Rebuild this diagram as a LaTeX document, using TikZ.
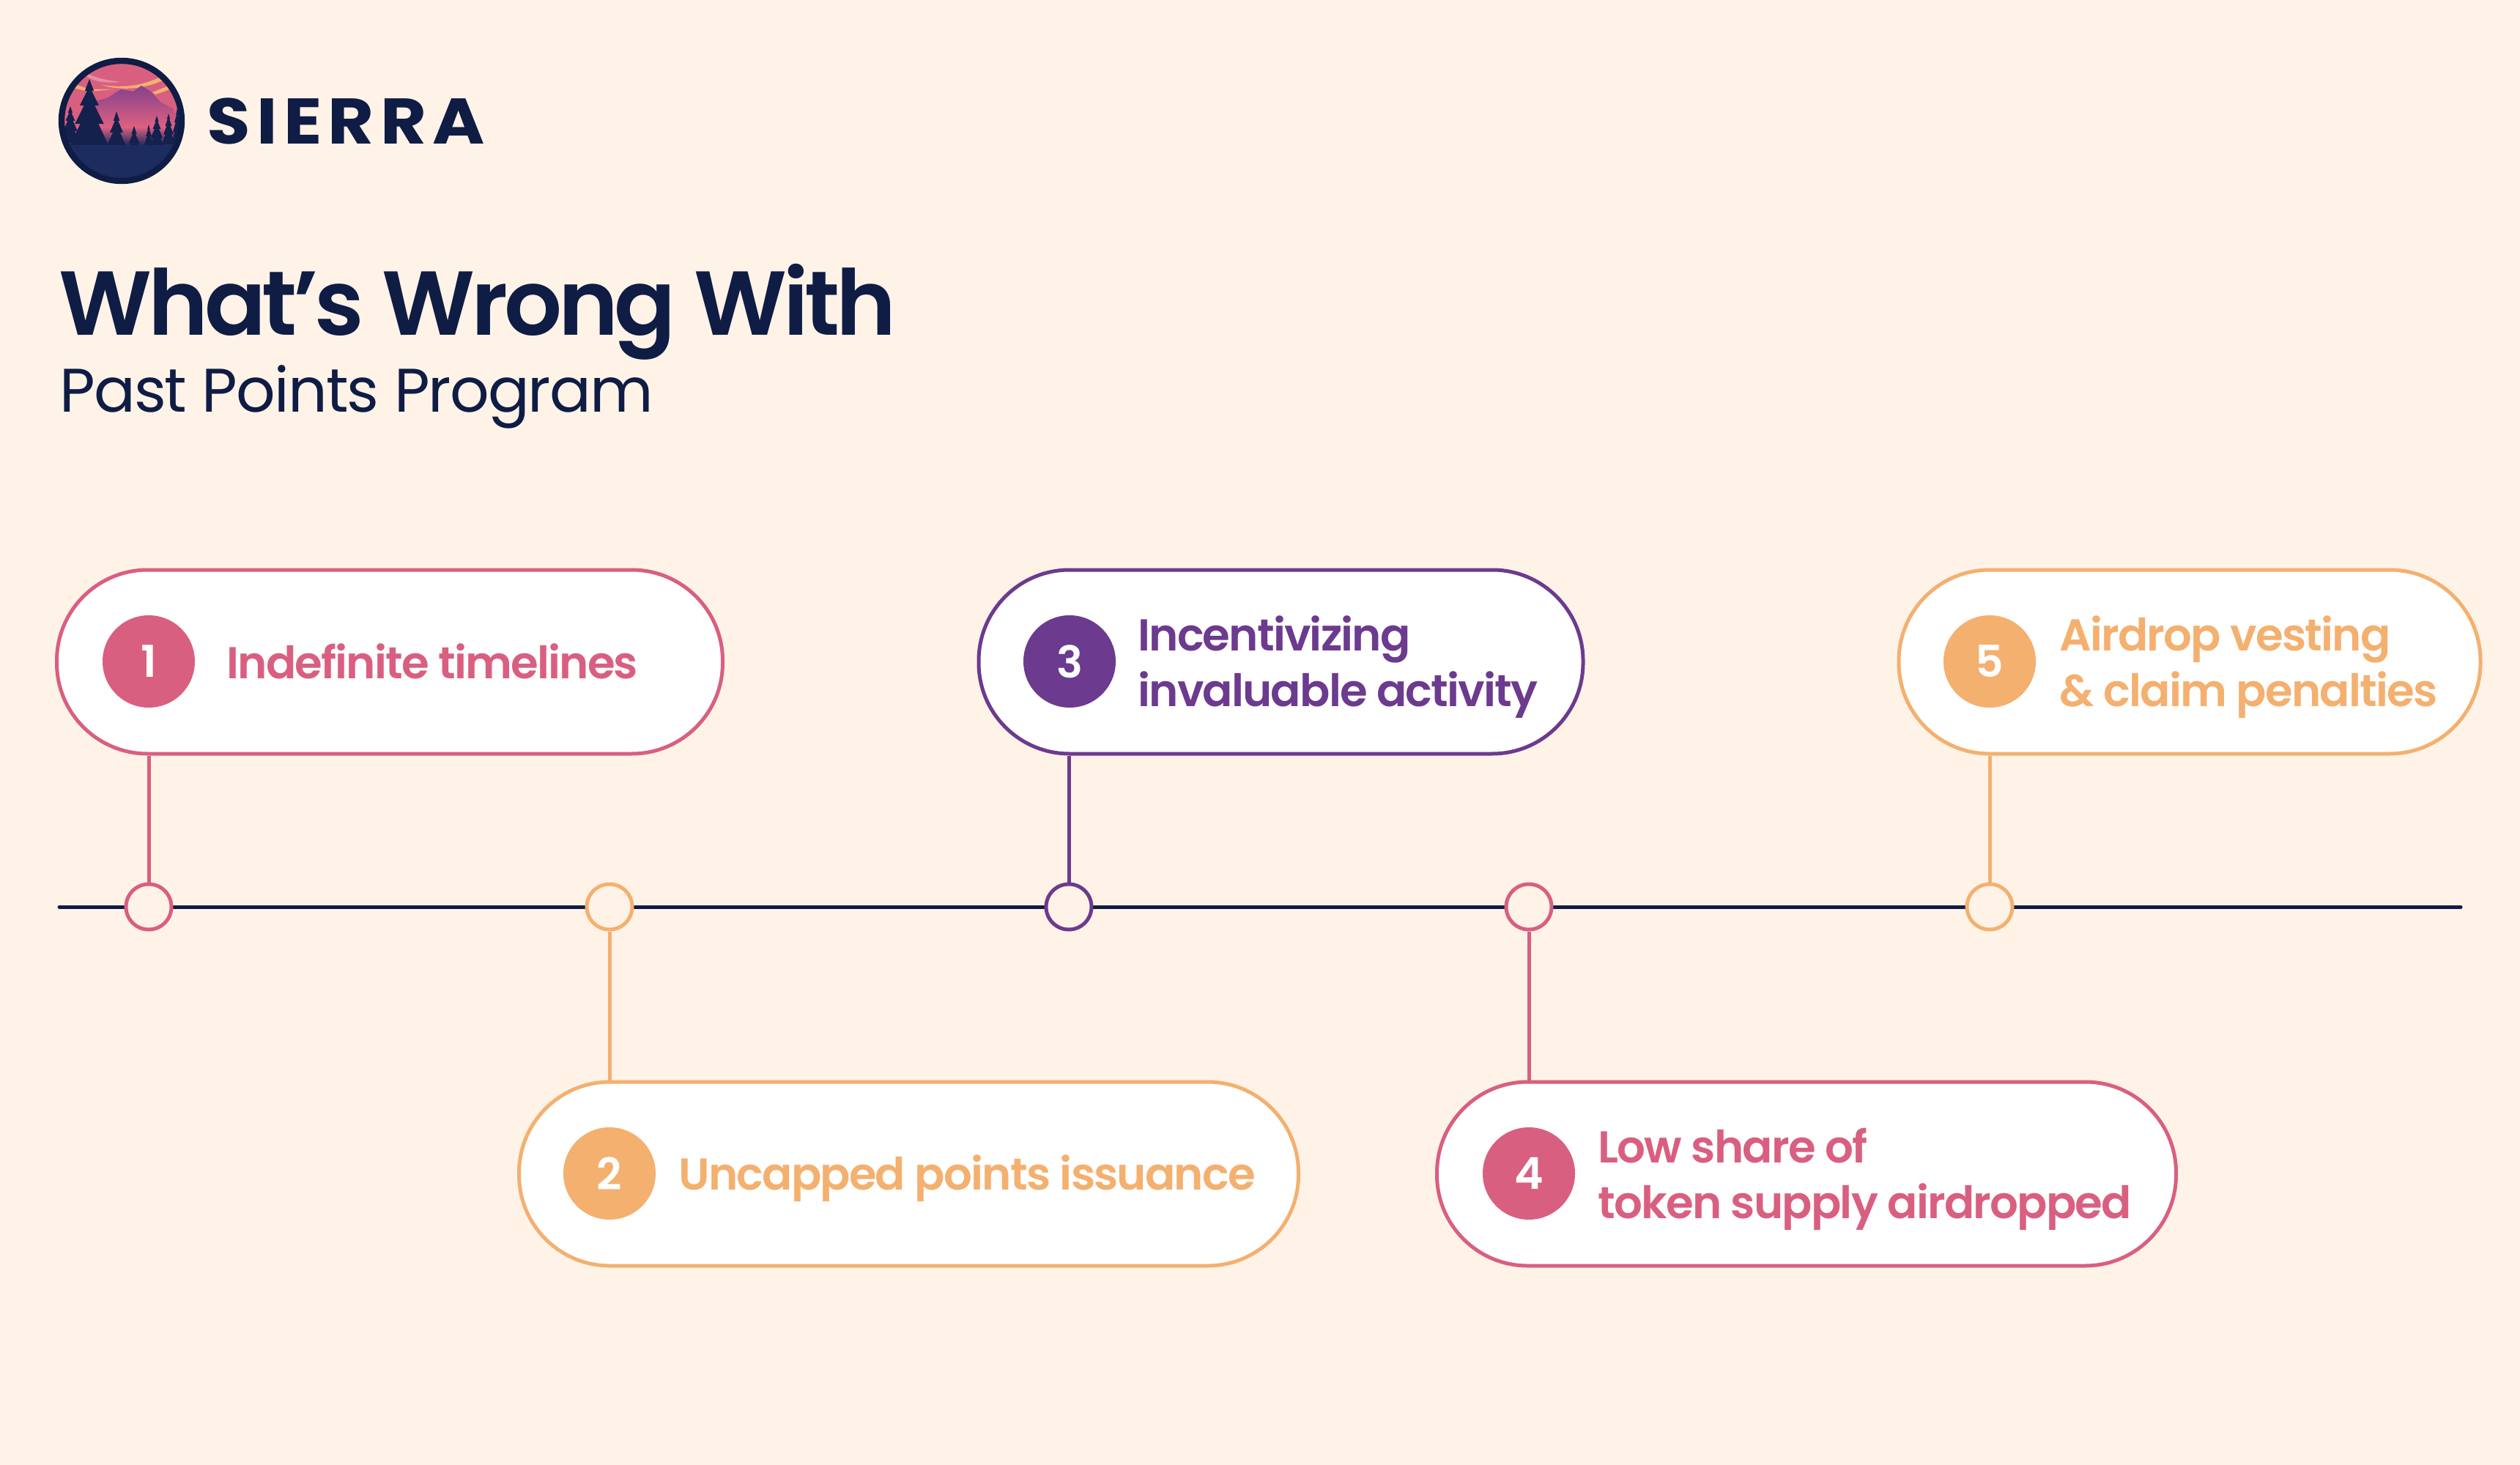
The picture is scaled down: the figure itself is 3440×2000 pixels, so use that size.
\documentclass[tikz,border=0pt]{standalone}
\usepackage{fontspec}
\setmainfont{Poppins}[LetterSpace=-2.3]
\newfontfamily\semibold{Poppins SemiBold}[LetterSpace=-3]
\newfontfamily\headfont{Poppins SemiBold}[LetterSpace=-4.2]
\newfontfamily\numfont{Poppins SemiBold}
\newfontfamily\logofont{Poppins Bold}[LetterSpace=9.5,FakeStretch=1.1]
\usetikzlibrary{positioning}

\definecolor{cream}{HTML}{FFF3E8}
\definecolor{navy}{HTML}{0F1C44}
\definecolor{deepnavy}{HTML}{1C2C5E}
\definecolor{rosepink}{HTML}{D95F80}
\definecolor{apricot}{HTML}{F4B06F}
\definecolor{grape}{HTML}{6C3A8E}

\tikzset{
  pill/.style={draw=#1, fill=white, line width=2.5pt, rounded corners=62pt, minimum height=125.5pt, inner sep=0pt},
  numdot/.style={circle, fill=#1, text=white, minimum size=63pt, inner sep=0pt, font=\numfont\fontsize{30}{30}\selectfont},
  pilltext/.style={text=#1, anchor=west, align=left, inner sep=0pt, font=\semibold\fontsize{30.5}{38}\selectfont},
  stopdot/.style={circle, draw=#1, fill=cream, line width=2.5pt, minimum size=31pt, inner sep=0pt},
  stem/.style={draw=#1, line width=2.5pt}
}
\newcommand{\pine}[4]{% apex x, apex y, width, height
  \fill[navy!70!deepnavy, shift={(#1,#2)}, xscale=#3, yscale=#4] (0,0) -- (.12,.18) -- (.06,.18) -- (.25,.4) -- (.14,.4) -- (.38,.68) -- (.24,.68) -- (.5,1) -- (-.5,1) -- (-.24,.68) -- (-.38,.68) -- (-.14,.4) -- (-.25,.4) -- (-.06,.18) -- (-.12,.18) -- cycle;
}

\begin{document}
\begin{tikzpicture}[x=0.5pt, y=-0.5pt]
\fill[cream] (0,0) rectangle (3440,2000);
\useasboundingbox (0,0) rectangle (3440,2000);

% logo
\begin{scope}
\clip (166,165) circle[radius=84];
\fill[rosepink] (80,80) rectangle (252,250);
\fill[rosepink!70!white] (118,100) .. controls (135,108) and (150,110) .. (165,112) .. controls (145,114) and (130,112) .. (118,104) -- cycle;
\fill[apricot] (100,114) -- (122,122) -- (155,122) -- (120,125) -- (100,120) -- cycle;
\fill[apricot] (138,116) .. controls (170,120) and (190,118) .. (220,105) -- (222,110) .. controls (195,122) and (165,124) .. (138,116) -- cycle;
\fill[apricot] (208,126) -- (228,118) -- (232,122) -- (212,129) -- cycle;
\shade[top color=grape!80!rosepink, bottom color=rosepink]
  (125,140) -- (148,133) -- (165,122) -- (182,125) -- (193,117) -- (206,125) -- (220,140) -- (236,148) -- (244,170) -- (125,170) -- cycle;
\shade[top color=rosepink, bottom color=deepnavy] (80,174) rectangle (252,198);
\pine{122}{108}{52}{90}
\pine{96}{145}{26}{50}
\pine{159}{152}{36}{72}
\pine{183}{172}{30}{60}
\pine{203}{170}{16}{40}
\pine{214}{158}{22}{45}
\pine{230}{155}{18}{42}
\pine{242}{148}{16}{48}
\fill[deepnavy] (80,198) rectangle (252,250);
\end{scope}
\draw[navy, line width=4.2pt] (166,165) circle[radius=82];
\node[anchor=base west, inner sep=0pt, text=navy, font=\logofont\fontsize{44}{44}\selectfont] (logoname) at (282,197) {SIERRA};

% heading
\node[anchor=base west, inner sep=0pt, text=navy, font=\headfont\fontsize{62}{62}\selectfont] (headline) at (80,458) {What’s Wrong With};
\node[anchor=base west, inner sep=0pt, text=navy, font=\fontsize{42}{42}\selectfont] (subline) at (81,562) {Past Points Program};

% timeline
\coordinate (lineL) at (81,1238);
\coordinate (lineR) at (3359,1238);
\draw[navy, line width=2.5pt, line cap=round] (lineL) -- (lineR);

\node[pill=rosepink, minimum width=454.5pt] (box1) at (532,903.5) {};
\node[pill=apricot, minimum width=532pt] (box2) at (1240.5,1602.5) {};
\node[pill=grape, minimum width=412.5pt] (box3) at (1748.5,903.5) {};
\node[pill=rosepink, minimum width=504.5pt] (box4) at (2466,1602.5) {};
\node[pill=apricot, minimum width=397pt] (box5) at (2989,903.5) {};

\node[numdot=rosepink] (num1) at (203,903) {1};
\node[numdot=apricot] (num2) at (832,1602) {2};
\node[numdot=grape] (num3) at (1460,903) {3};
\node[numdot=rosepink] (num4) at (2087,1602) {4};
\node[numdot=apricot] (num5) at (2716,903) {5};

\node[pilltext=rosepink] (label1) at (309,903) {Indefinite timelines};
\node[pilltext=apricot] (label2) at (926,1609) {Uncapped points issuance};
\node[pilltext=grape] (label3) at (1553,911) {Incentivizing\\invaluable activity};
\node[pilltext=rosepink] (label4) at (2181,1610) {Low share of\\token supply airdropped};
\node[pilltext=apricot] (label5) at (2811,911) {Airdrop vesting\\\& claim penalties};

\node[stopdot=rosepink] (stop1) at (203,1238) {};
\node[stopdot=apricot] (stop2) at (832,1238) {};
\node[stopdot=grape] (stop3) at (1459,1238) {};
\node[stopdot=rosepink] (stop4) at (2087,1238) {};
\node[stopdot=apricot] (stop5) at (2716,1238) {};

\draw[stem=rosepink] (box1.south -| stop1) -- (stop1.north);
\draw[stem=apricot] (stop2.south) -- (box2.north -| stop2);
\draw[stem=grape] (box3.south -| stop3) -- (stop3.north);
\draw[stem=rosepink] (stop4.south) -- (box4.north -| stop4);
\draw[stem=apricot] (box5.south -| stop5) -- (stop5.north);
\end{tikzpicture}
\end{document}
